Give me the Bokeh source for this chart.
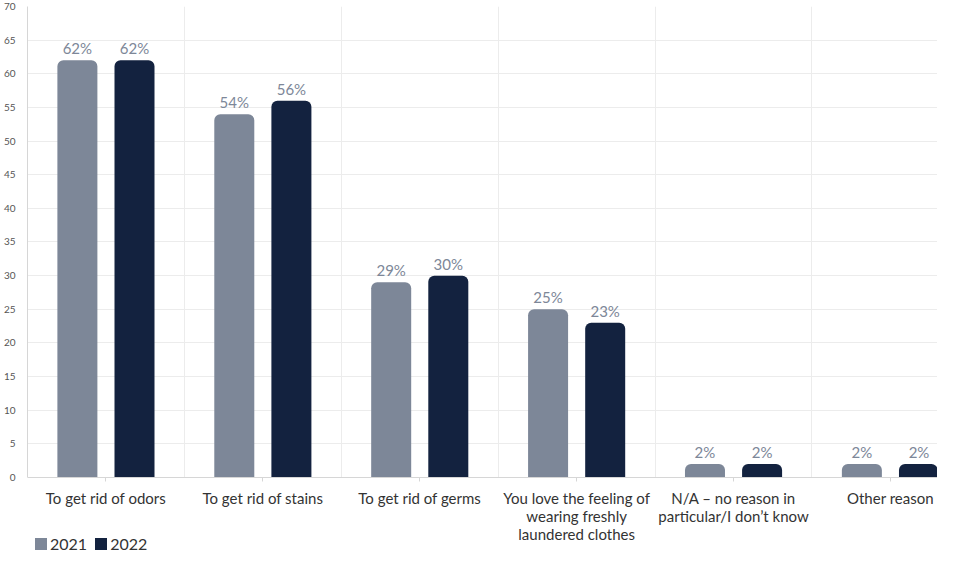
from bokeh.plotting import figure
from bokeh.models import ColumnDataSource, FixedTicker, Legend, LegendItem, Range1d, LabelSet
from bokeh.core.properties import value
from bokeh.embed import file_html
from bokeh.resources import INLINE

categories = ["To get rid of odors", "To get rid of stains", "To get rid of germs",
              "You love the feeling of\nwearing freshly\nlaundered clothes",
              "N/A \u2013 no reason in\nparticular/I don\u2019t know", "Other reason"]
series_names = ["2021", "2022"]
values_2021 = [62, 54, 29, 25, 2, 2]
values_2022 = [62, 56, 30, 23, 2, 2]
y_ticks = list(range(0, 75, 5))

FONT = "Lato"
C1 = "#7d8798"
C2 = "#13223f"

p = figure(width=937, height=553, output_backend="svg", toolbar_location=None,
           x_range=Range1d(0, 5.8), y_range=Range1d(-11.3, 70),
           min_border_left=24, min_border_top=6, min_border_right=0, min_border_bottom=0)
p.outline_line_color = None

centers = [i + 0.5 for i in range(len(categories))]
off = 0.182
bw = 0.255
src1 = ColumnDataSource(dict(x=[c - off for c in centers], top=values_2021,
                             lab=[f"{v}%" for v in values_2021]))
src2 = ColumnDataSource(dict(x=[c + off for c in centers], top=values_2022,
                             lab=[f"{v}%" for v in values_2022]))
r1 = p.vbar(x="x", top="top", bottom=0, width=bw, source=src1, fill_color=C1, line_color=None,
            border_radius=(6, 6, 0, 0))
r2 = p.vbar(x="x", top="top", bottom=0, width=bw, source=src2, fill_color=C2, line_color=None,
            border_radius=(6, 6, 0, 0))

for src in (src1, src2):
    p.add_layout(LabelSet(x="x", y="top", text="lab", source=src, text_align="center",
                          text_baseline="bottom", y_offset=3, text_font=value(FONT),
                          text_font_size=value("15px"), text_color=value(C1)))

# grids
p.xgrid.ticker = FixedTicker(ticks=[1, 2, 3, 4, 5, 6])
p.xgrid.grid_line_color = "#ececec"
p.xgrid.cross_bounds = (0, 70)
p.ygrid.ticker = FixedTicker(ticks=y_ticks)
p.ygrid.grid_line_color = "#ececec"

p.xaxis.fixed_location = 0
p.xaxis.ticker = FixedTicker(ticks=centers)
p.xaxis.major_label_overrides = {c: lab for c, lab in zip(centers, categories)}
p.xaxis.major_label_text_font = FONT
p.xaxis.major_label_text_font_size = "15px"
p.xaxis.major_label_text_color = "#333333"
p.xaxis.major_label_text_line_height = 1.0
p.xaxis.major_label_standoff = 8
p.xaxis.axis_line_color = "#d6d6d6"
p.xaxis.major_tick_line_color = "#d6d6d6"
p.xaxis.major_tick_out = 4
p.xaxis.major_tick_in = 0
p.xaxis.minor_tick_line_color = None

p.yaxis.ticker = FixedTicker(ticks=y_ticks)
p.yaxis.bounds = (0, 70)
p.yaxis.major_label_text_font = FONT
p.yaxis.major_label_text_font_size = "10px"
p.yaxis.major_label_text_color = "#555555"
p.yaxis.axis_line_color = "#d6d6d6"
p.yaxis.major_tick_line_color = None
p.yaxis.minor_tick_line_color = None
p.yaxis.major_label_standoff = 6

legend = Legend(items=[LegendItem(label=series_names[0], renderers=[r1]),
                       LegendItem(label=series_names[1], renderers=[r2])],
                orientation="horizontal", location=(6, 0),
                label_text_font=FONT, label_text_font_size="16px", label_text_color="#333333",
                glyph_width=15, glyph_height=15, spacing=6, label_standoff=2,
                label_height=15, padding=0, margin=0, border_line_color=None,
                background_fill_alpha=0)
p.add_layout(legend)

open("out.html", "w").write(file_html(p, INLINE))
